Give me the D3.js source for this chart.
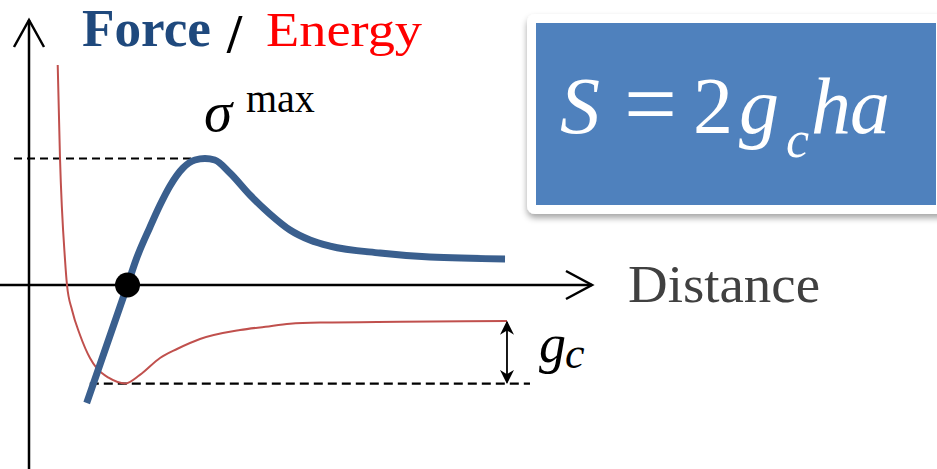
<!DOCTYPE html>
<html>
<head>
<meta charset="utf-8">
<script src="https://cdn.jsdelivr.net/npm/d3@7"></script>
<style>
  html, body { margin: 0; padding: 0; background: #fff; }
  svg { display: block; }
  text { font-family: "Liberation Serif", "Times New Roman", serif; }
</style>
</head>
<body>
<svg id="chart" width="937" height="469"></svg>
<script>
// Force–distance curve (units of the peak traction sigma^max)
const forceDistance = [1.025, 1.75, 1.90, 2.149, 2.327, 2.504, 2.735, 2.948, 3.126, 3.30, 3.57, 3.925, 4.28, 4.636, 4.99, 5.346, 6.234, 7.12, 8.455];
const forceValue    = [-0.933, 0.0, 0.198, 0.458, 0.632, 0.783, 0.925, 0.988, 1.0, 0.988, 0.885, 0.711, 0.561, 0.435, 0.356, 0.308, 0.253, 0.221, 0.206];

// Interaction energy against distance
const energyDistance = [0.51, 0.55, 0.64, 0.675, 0.764, 0.906, 1.083, 1.2, 1.421, 1.705, 1.97, 2.327, 2.629, 3.037, 3.748, 4.20, 4.636, 5.20, 6.59, 8.49];
const energyValue    = [1.739, 1.012, 0.198, 0.0, -0.198, -0.395, -0.577, -0.656, -0.735, -0.779, -0.711, -0.577, -0.506, -0.427, -0.356, -0.330, -0.306, -0.297, -0.291, -0.285];

// Reference levels
const sigmaMax = 1.0;           // peak force
const sigmaMaxAt = 3.126;       // distance of the peak
const equilibrium = 1.75;       // distance where force crosses zero
const energyMin = -0.779;       // bottom of the energy well
const energyFar = -0.285;       // energy at large separation
const gcAt = 8.49;              // where the g_c gap is marked

const svg = d3.select("#chart");

const x = d3.scaleLinear().domain([0, 10]).range([29, 592]);
const y = d3.scaleLinear().domain([0, 1]).range([285, 158.5]);

const forceData = forceDistance.map((d, i) => [d, forceValue[i]]);
const energyData = energyDistance.map((d, i) => [d, energyValue[i]]);

const line = d3.line().x(d => x(d[0])).y(d => y(d[1])).curve(d3.curveMonotoneX);

// Axes with open arrowheads
const axes = svg.append("g").attr("stroke", "#000").attr("stroke-width", 2.5).attr("fill", "none");
const ox = x(0), oy = y(0);
axes.append("line").attr("x1", ox).attr("y1", 469).attr("x2", ox).attr("y2", 20);
axes.append("path").attr("d", `M${ox - 15},47 L${ox},20 L${ox + 15},47`);
axes.append("line").attr("x1", 0).attr("y1", oy).attr("x2", x(10)).attr("y2", oy);
axes.append("path").attr("d", `M${x(10) - 26},${oy - 14} L${x(10)},${oy} L${x(10) - 26},${oy + 14}`);

// Dashed guide lines
svg.append("line")
  .attr("x1", 14).attr("x2", x(sigmaMaxAt) - 5)
  .attr("y1", y(sigmaMax)).attr("y2", y(sigmaMax))
  .attr("stroke", "#000").attr("stroke-width", 2.2).attr("stroke-dasharray", "8,5");
svg.append("line")
  .attr("x1", x(1.08)).attr("x2", x(gcAt) + 23)
  .attr("y1", y(energyMin)).attr("y2", y(energyMin))
  .attr("stroke", "#000").attr("stroke-width", 2.2).attr("stroke-dasharray", "9,5");

// Energy curve
svg.append("path").datum(energyData)
  .attr("d", line).attr("fill", "none")
  .attr("stroke", "#c0504d").attr("stroke-width", 2);

// Force curve
svg.append("path").datum(forceData)
  .attr("d", line).attr("fill", "none")
  .attr("stroke", "#3a5f8e").attr("stroke-width", 7);

// Equilibrium point
svg.append("circle").attr("cx", x(equilibrium)).attr("cy", y(0)).attr("r", 12.5).attr("fill", "#000");

// g_c double arrow
const defs = svg.append("defs");
defs.append("marker").attr("id", "head").attr("viewBox", "0 0 10 10")
  .attr("refX", 9).attr("refY", 5).attr("markerWidth", 14).attr("markerHeight", 14)
  .attr("markerUnits", "userSpaceOnUse").attr("orient", "auto-start-reverse")
  .append("path").attr("d", "M0,0 L10,5 L0,10 L3,5 Z").attr("fill", "#000");
svg.append("line")
  .attr("x1", x(gcAt)).attr("x2", x(gcAt))
  .attr("y1", y(energyFar) + 1).attr("y2", y(energyMin) - 1)
  .attr("stroke", "#000").attr("stroke-width", 1.8)
  .attr("marker-start", "url(#head)").attr("marker-end", "url(#head)");

// g_c label
const gc = svg.append("text").attr("fill", "#000").attr("font-style", "italic");
gc.append("tspan").attr("x", 539).attr("y", 362).attr("font-size", 54).text("g");
gc.append("tspan").attr("x", 565).attr("y", 368).attr("font-size", 44).text("c");

// sigma^max label
const sm = svg.append("text").attr("fill", "#000");
sm.append("tspan").attr("x", 204).attr("y", 131).attr("font-size", 57).attr("font-style", "italic").text("σ");
sm.append("tspan").attr("x", 246).attr("y", 112).attr("font-size", 40).text("max");

// Distance axis label
svg.append("text").attr("x", 628).attr("y", 302).attr("font-size", 53)
  .attr("fill", "#404040").attr("textLength", 192).attr("lengthAdjust", "spacingAndGlyphs").text("Distance");

// Title
const title = svg.append("g");
title.append("text").attr("x", 82).attr("y", 46).attr("font-size", 53).attr("font-weight", "bold")
  .attr("fill", "#1f497d").attr("textLength", 129).attr("lengthAdjust", "spacingAndGlyphs").text("Force");
title.append("text").attr("x", 227).attr("y", 52).attr("font-size", 54).attr("font-weight", "bold")
  .attr("fill", "#000").text("/");
title.append("text").attr("x", 266).attr("y", 46).attr("font-size", 49)
  .attr("fill", "#ff0000").attr("textLength", 156).attr("lengthAdjust", "spacingAndGlyphs").text("Energy");

// Formula box
const shadow = defs.append("filter").attr("id", "shadow").attr("x", "-10%").attr("y", "-10%").attr("width", "130%").attr("height", "140%");
shadow.append("feDropShadow").attr("dx", 0).attr("dy", 4).attr("stdDeviation", 3)
  .attr("flood-color", "#000").attr("flood-opacity", 0.35);
svg.append("rect").attr("x", 527).attr("y", 14).attr("width", 430).attr("height", 200).attr("rx", 8)
  .attr("fill", "#fff").attr("filter", "url(#shadow)");
svg.append("rect").attr("x", 536).attr("y", 23).attr("width", 400).attr("height", 182).attr("fill", "#4f81bd");

const f = svg.append("text").attr("fill", "#fff").attr("font-size", 80);
f.append("tspan").attr("x", 560).attr("y", 133).attr("font-style", "italic").text("S");
f.append("tspan").attr("x", 624).attr("y", 135).attr("font-size", 94).text("=");
f.append("tspan").attr("x", 693).attr("y", 133).text("2");
f.append("tspan").attr("x", 739).attr("y", 133).attr("font-style", "italic").text("g");
f.append("tspan").attr("x", 786).attr("y", 157).attr("font-style", "italic").attr("font-size", 52).text("c");
f.append("tspan").attr("x", 811).attr("y", 133).attr("font-style", "italic").text("h");
f.append("tspan").attr("x", 850).attr("y", 133).attr("font-style", "italic").text("a");
</script>
</body>
</html>
